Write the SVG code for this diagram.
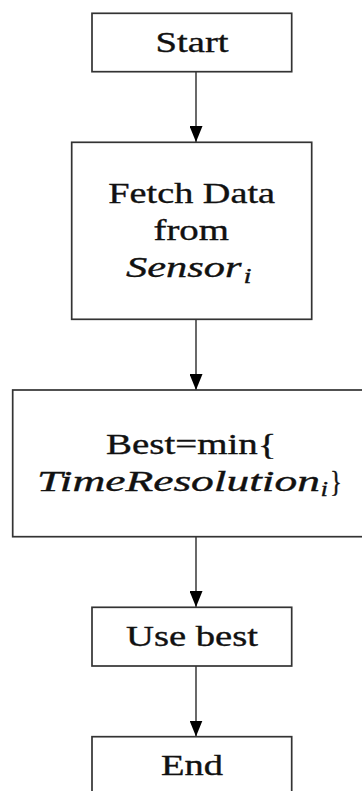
<svg xmlns="http://www.w3.org/2000/svg" width="362" height="791" viewBox="0 0 362 791">
<defs>
<style>
.box{fill:#fff;stroke:#333;stroke-width:1.7}
.t{font-family:"Liberation Serif","Times New Roman",serif;font-size:28.5px;fill:#111;stroke:#111;stroke-width:0.35}
.m{font-family:"Liberation Serif","Times New Roman",serif;font-style:italic;font-size:28.5px;fill:#111;stroke:#111;stroke-width:0.35}
.sub{font-family:"Liberation Serif","Times New Roman",serif;font-style:italic;font-size:20px;fill:#111;stroke:#111;stroke-width:0.3}
.c{stroke:#444;stroke-width:1.6;fill:none}
</style>
<marker id="ah" markerUnits="userSpaceOnUse" markerWidth="17" markerHeight="13" refX="16" refY="6.5" orient="auto" viewBox="0 0 17 13">
<path d="M0,0 L16,6.5 L0,13 z" fill="#000"/>
</marker>
</defs>
<rect width="362" height="791" fill="#fff"/>
<g id="connectors">
<line class="c" x1="196" y1="71.7" x2="196" y2="142" marker-end="url(#ah)"/>
<line class="c" x1="196" y1="319.3" x2="196" y2="390" marker-end="url(#ah)"/>
<line class="c" x1="196" y1="536.7" x2="196" y2="607" marker-end="url(#ah)"/>
<line class="c" x1="196" y1="666" x2="196" y2="736.5" marker-end="url(#ah)"/>
</g>
<g id="start">
<rect class="box" x="92" y="13.3" width="199.7" height="58.4"/>
<text class="t" x="155.5" y="52.3" textLength="73" lengthAdjust="spacingAndGlyphs">Start</text>
</g>
<g id="fetch">
<rect class="box" x="71.7" y="142.3" width="240" height="177"/>
<text class="t" x="108.3" y="203.3" textLength="166.7" lengthAdjust="spacingAndGlyphs">Fetch Data</text>
<text class="t" x="153.5" y="240" textLength="75.5" lengthAdjust="spacingAndGlyphs">from</text>
<text class="m" x="126" y="276.7" textLength="115.5" lengthAdjust="spacingAndGlyphs">Sensor</text>
<text class="sub" x="243.5" y="283.3" textLength="8" lengthAdjust="spacingAndGlyphs">i</text>
</g>
<g id="best">
<rect class="box" x="12.7" y="390" width="360" height="146.7"/>
<text class="t" x="106" y="453.5" textLength="170.5" lengthAdjust="spacingAndGlyphs">Best=min{</text>
<text class="m" x="37" y="490.7" textLength="283" lengthAdjust="spacingAndGlyphs">TimeResolution</text>
<text class="sub" x="320.5" y="496" textLength="7.5" lengthAdjust="spacingAndGlyphs">i</text>
<text class="t" x="330" y="490.7" textLength="12" lengthAdjust="spacingAndGlyphs">}</text>
</g>
<g id="use">
<rect class="box" x="92" y="607.3" width="199.7" height="58.7"/>
<text class="t" x="126" y="646" textLength="132" lengthAdjust="spacingAndGlyphs">Use best</text>
</g>
<g id="end">
<rect class="box" x="92" y="736.7" width="199.7" height="70"/>
<text class="t" x="161" y="775" textLength="62" lengthAdjust="spacingAndGlyphs">End</text>
</g>
</svg>
